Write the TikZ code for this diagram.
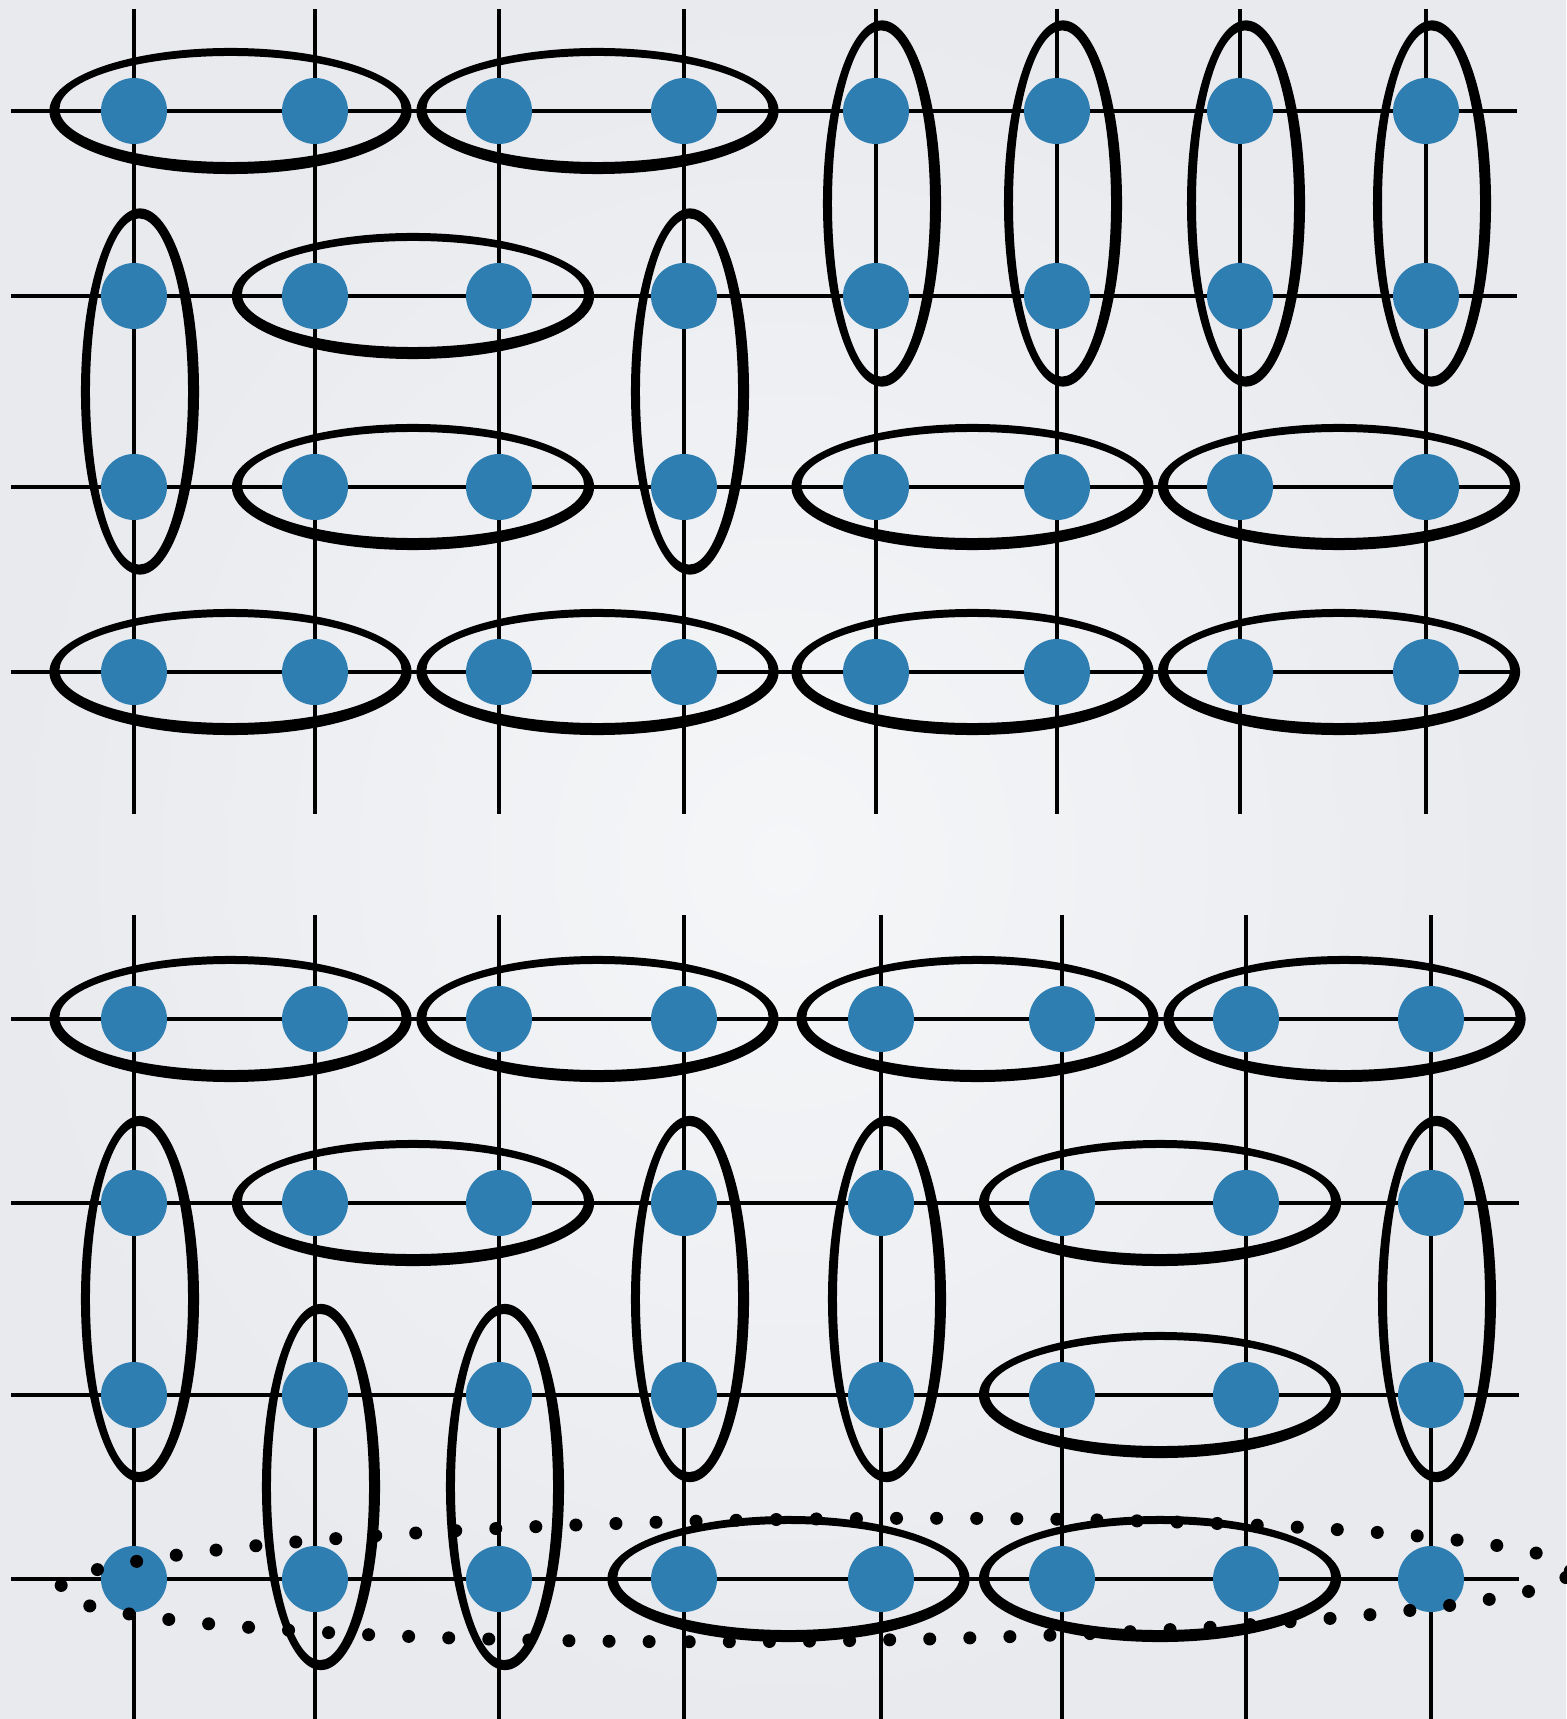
\documentclass[tikz,border=0pt]{standalone}
\usetikzlibrary{calc}
\definecolor{dotblue}{RGB}{47,126,178}
\definecolor{paper}{RGB}{245,246,248}
\definecolor{paperedge}{RGB}{232,234,238}

\tikzset{
  lattice/.style={black, line width=0.95pt},
  site/.style={circle, fill=dotblue, minimum size=0.66cm, inner sep=0pt},
  ring/.style={fill=black, even odd rule},
  dimerloop/.style={black, line width=3.7pt, line cap=round, dash pattern=on 0pt off 11.4pt},
}

% brush-like loops round two sites
\newcommand{\hpair}[2]{%
  \fill[ring] ($(#1)!0.5!(#2)+(6,0)$) ellipse [x radius=1.81cm, y radius=0.63cm]
              ($(#1)!0.5!(#2)+(6,-2)$) ellipse [x radius=1.71cm, y radius=0.53cm];}
\newcommand{\vpair}[2]{%
  \fill[ring] ($(#1)!0.5!(#2)+(6,0)$) ellipse [x radius=0.59cm, y radius=1.83cm]
              ($(#1)!0.5!(#2)+(5,0)$) ellipse [x radius=0.49cm, y radius=1.73cm];}

\begin{document}
\begin{tikzpicture}[x=0.01cm, y=-0.01cm]
    \useasboundingbox (0,0) rectangle (1566,1719);
    \shade[inner color=paper, outer color=paperedge] (0,0) rectangle (1566,1719);
% Top lattice
    \foreach \x in {134,315,499,684,876,1057,1240,1426}
        \draw[lattice] (\x,9) -- (\x,814);
    \foreach \y in {111,296,487,672}
        \draw[lattice] (11,\y) -- (1517,\y);
    \foreach \r/\y in {1/111,2/296,3/487,4/672}
        \foreach \c/\x in {1/134,2/315,3/499,4/684,5/876,6/1057,7/1240,8/1426}
            \node[site] (t-\r-\c) at (\x,\y) {};
% Bottom lattice
    \foreach \x in {134,315,499,684,881,1062,1246,1431}
        \draw[lattice] (\x,915) -- (\x,1719);
    \foreach \y in {1019,1203,1395,1579}
        \draw[lattice] (11,\y) -- (1519,\y);
    \foreach \r/\y in {1/1019,2/1203,3/1395,4/1579}
        \foreach \c/\x in {1/134,2/315,3/499,4/684,5/881,6/1062,7/1246,8/1431}
            \node[site] (b-\r-\c) at (\x,\y) {};
% Loops of the top covering
    \hpair{t-1-1}{t-1-2} \hpair{t-1-3}{t-1-4}
    \vpair{t-1-5}{t-2-5} \vpair{t-1-6}{t-2-6} \vpair{t-1-7}{t-2-7} \vpair{t-1-8}{t-2-8}
    \vpair{t-2-1}{t-3-1} \hpair{t-2-2}{t-2-3} \hpair{t-3-2}{t-3-3} \vpair{t-2-4}{t-3-4}
    \hpair{t-3-5}{t-3-6} \hpair{t-3-7}{t-3-8}
    \hpair{t-4-1}{t-4-2} \hpair{t-4-3}{t-4-4} \hpair{t-4-5}{t-4-6} \hpair{t-4-7}{t-4-8}
% Loops of the bottom covering
    \hpair{b-1-1}{b-1-2} \hpair{b-1-3}{b-1-4} \hpair{b-1-5}{b-1-6} \hpair{b-1-7}{b-1-8}
    \vpair{b-2-1}{b-3-1} \hpair{b-2-2}{b-2-3} \vpair{b-2-4}{b-3-4} \vpair{b-2-5}{b-3-5}
    \hpair{b-2-6}{b-2-7} \vpair{b-2-8}{b-3-8} \hpair{b-3-6}{b-3-7}
    \vpair{b-3-2}{b-4-2} \vpair{b-3-3}{b-4-3}
    \hpair{b-4-4}{b-4-5} \hpair{b-4-6}{b-4-7}
% Dotted loop along the last row
    \draw[dimerloop, rotate around={0.7:(815,1580)}] (815,1580) ellipse [x radius=7.55cm, y radius=0.61cm];
\end{tikzpicture}
\end{document}
